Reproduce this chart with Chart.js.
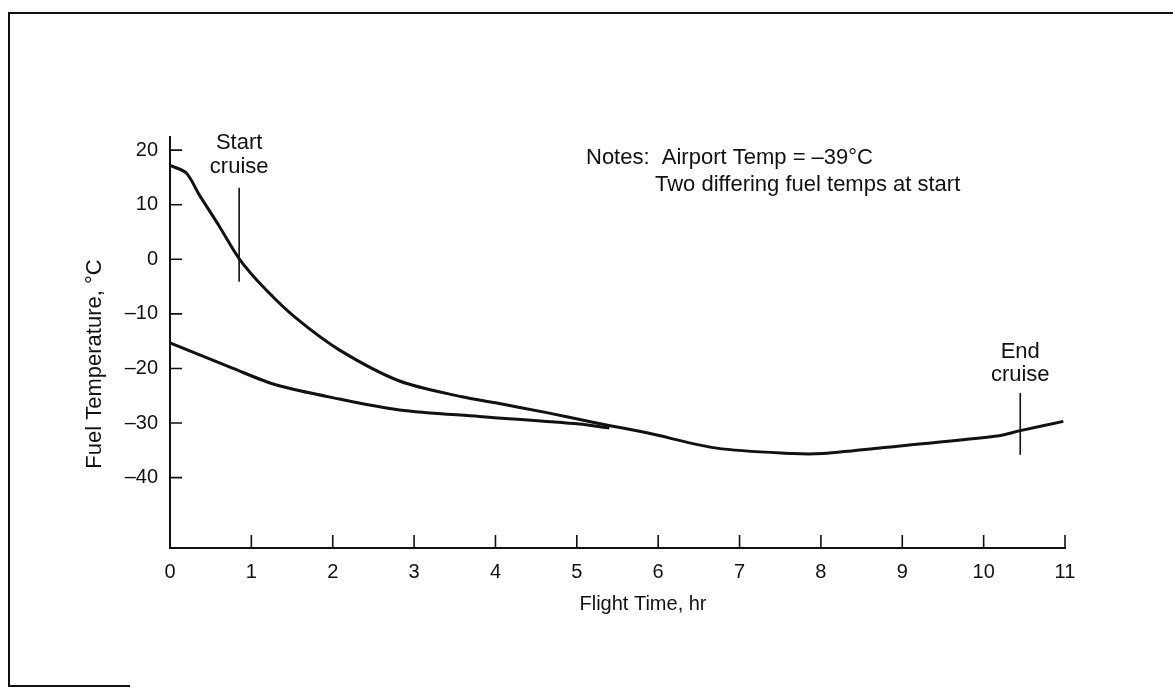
<!DOCTYPE html>
<html>
<head>
<meta charset="utf-8">
<script src="https://cdn.jsdelivr.net/npm/chart.js@4.4.1/dist/chart.umd.min.js"></script>
<style>
  html, body { margin: 0; padding: 0; background: #fff; }
  #wrap { position: relative; width: 1173px; height: 688px; }
</style>
</head>
<body>
<div id="wrap"><canvas id="fuelChart" width="1173" height="688"></canvas></div>
<script>
// Fuel temperature vs flight time
const upperHours = [0, 0.2, 0.36, 0.6, 0.86, 1.18, 1.55, 2.08, 2.82, 3.59, 4.0, 4.63, 5.24, 5.86, 6.72, 7.65, 8.02, 8.97, 10.16, 10.45, 10.98];
const upperTemp  = [17.2, 15.8, 11.8, 6.2, -0.1, -5.6, -10.8, -16.6, -22.3, -25.2, -26.3, -28.1, -30.0, -31.8, -34.6, -35.6, -35.6, -34.2, -32.4, -31.4, -29.7];

const lowerHours = [0, 0.76, 1.3, 2.08, 2.82, 3.8, 5.03, 5.4];
const lowerTemp  = [-15.3, -19.9, -23.0, -25.6, -27.6, -28.8, -30.2, -30.9];

// cruise markers (vertical bars)
const startCruiseHours = [0.85, 0.85];
const startCruiseTemp  = [13.1, -4.1];
const endCruiseHours = [10.45, 10.45];
const endCruiseTemp  = [-24.5, -35.8];

const xTicks = [0, 1, 2, 3, 4, 5, 6, 7, 8, 9, 10, 11];
const yTicks = [-40, -30, -20, -10, 0, 10, 20];

const FONT = '"Liberation Sans", Arial, Helvetica, sans-serif';
const INK = '#111';

function pts(xs, ys) {
    return xs.map((x, i) => ({ x: x, y: ys[i] }));
}

// inner tick marks, axis titles, notes and page frame
const decorations = {
    id: 'decorations',
    afterDraw(chart) {
        const ctx = chart.ctx;
        const xs = chart.scales.x;
        const ys = chart.scales.y;
        const area = chart.chartArea;
        ctx.save();
        ctx.strokeStyle = INK;
        ctx.lineWidth = 1.6;

        // tick marks pointing into the plot
        ctx.beginPath();
        yTicks.forEach(v => {
            const py = ys.getPixelForValue(v);
            ctx.moveTo(area.left, py);
            ctx.lineTo(area.left + 12, py);
        });
        xTicks.forEach(v => {
            const px = xs.getPixelForValue(v);
            ctx.moveTo(px, area.bottom);
            ctx.lineTo(px, area.bottom - 13);
        });
        ctx.stroke();

        // frame round the figure (top, left, short bottom piece)
        ctx.lineWidth = 2;
        ctx.beginPath();
        ctx.moveTo(9, 687);
        ctx.lineTo(9, 13);
        ctx.lineTo(1173, 13);
        ctx.moveTo(9, 686);
        ctx.lineTo(130, 686);
        ctx.stroke();

        ctx.fillStyle = INK;
        ctx.textBaseline = 'middle';

        // axis titles
        ctx.textAlign = 'center';
        ctx.font = '20px ' + FONT;
        ctx.fillText('Flight Time, hr', 643, 604);
        ctx.save();
        ctx.font = '22px ' + FONT;
        ctx.translate(95, 364);
        ctx.rotate(-Math.PI / 2);
        ctx.fillText('Fuel Temperature, °C', 0, 0);
        ctx.restore();

        // cruise labels above the markers
        ctx.font = '22px ' + FONT;
        const sx = xs.getPixelForValue(startCruiseHours[0]);
        ctx.fillText('Start', sx, 143);
        ctx.fillText('cruise', sx, 167);
        const ex = xs.getPixelForValue(endCruiseHours[0]);
        ctx.fillText('End', ex, 352);
        ctx.fillText('cruise', ex, 375);

        // notes
        ctx.textAlign = 'left';
        ctx.fillText('Notes:  Airport Temp = –39°C', 586, 158);
        ctx.fillText('Two differing fuel temps at start', 655, 185);
        ctx.restore();
    }
};

const lineStyle = {
    borderColor: INK,
    borderWidth: 3,
    pointRadius: 0,
    fill: false,
    tension: 0.3
};

const ctx = document.getElementById('fuelChart').getContext('2d');
const fuelChart = new Chart(ctx, {
    type: 'line',
    data: {
        datasets: [
            Object.assign({ label: 'Warm start', data: pts(upperHours, upperTemp) }, lineStyle),
            Object.assign({ label: 'Cold start', data: pts(lowerHours, lowerTemp) }, lineStyle),
            { label: 'Start cruise', data: pts(startCruiseHours, startCruiseTemp), borderColor: INK, borderWidth: 1.6, pointRadius: 0 },
            { label: 'End cruise', data: pts(endCruiseHours, endCruiseTemp), borderColor: INK, borderWidth: 1.6, pointRadius: 0 }
        ]
    },
    options: {
        responsive: false,
        animation: false,
        devicePixelRatio: 1,
        layout: { padding: { top: 137, right: 108, left: 0, bottom: 0 } },
        plugins: {
            legend: { display: false },
            tooltip: { enabled: false }
        },
        scales: {
            x: {
                type: 'linear',
                min: 0,
                max: 11,
                grid: { display: false, drawTicks: false },
                border: { display: true, color: INK, width: 2 },
                ticks: {
                    stepSize: 1,
                    padding: 12,
                    color: INK,
                    font: { family: FONT, size: 20 }
                },
                afterBuildTicks: s => { s.ticks = xTicks.map(v => ({ value: v })); },
                afterFit: s => { s.height = 140; }
            },
            y: {
                min: -52.9,
                max: 22.4,
                grid: { display: false, drawTicks: false },
                border: { display: true, color: INK, width: 2 },
                ticks: {
                    padding: 12,
                    color: INK,
                    font: { family: FONT, size: 20 },
                    callback: v => (v < 0 ? '–' + Math.abs(v) : String(v))
                },
                afterBuildTicks: s => { s.ticks = yTicks.map(v => ({ value: v })); },
                afterFit: s => { s.width = 170; }
            }
        }
    },
    plugins: [decorations]
});
</script>
</body>
</html>
